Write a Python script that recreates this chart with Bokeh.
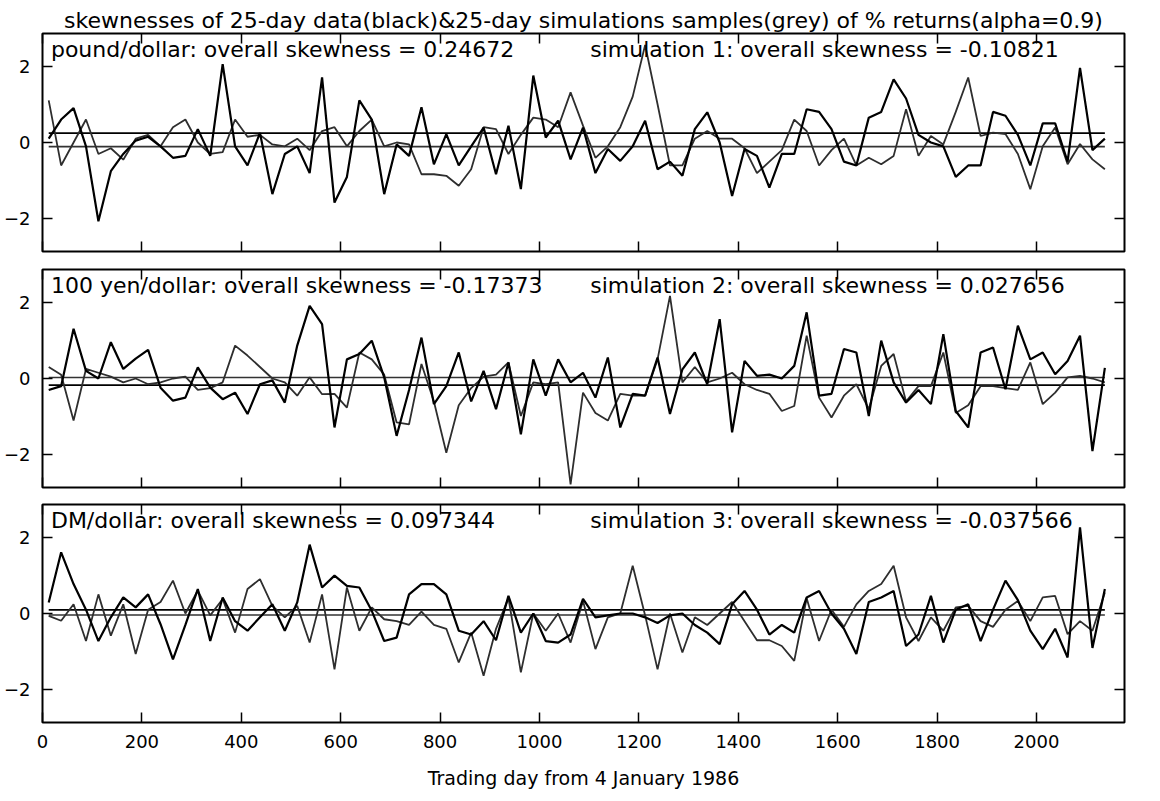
from bokeh.plotting import figure
from bokeh.layouts import column
from bokeh.models import Range1d, LinearAxis, FixedTicker, Label
from bokeh.embed import file_html
from bokeh.resources import INLINE

# ---- data -------------------------------------------------------------
n_windows = 86
days = [12.5 + 25 * i for i in range(n_windows)]   # centre of each 25-day window

pound_data = [0.1, 0.6, 0.9, -0.1, -2.06, -0.75, -0.3, 0.05, 0.15, -0.1,
              -0.4, -0.35, 0.35, -0.35, 2.05, -0.1, -0.6, 0.25, -1.35, -0.3,
              -0.1, -0.8, 1.7, -1.57, -0.9, 1.1, 0.6, -1.35, -0.05, -0.35,
              0.92, -0.57, 0.22, -0.6, -0.1, 0.39, -0.83, 0.44, -1.22, 1.75,
              0.13, 0.57, -0.44, 0.39, -0.8, -0.17, -0.48, -0.1, 0.57, -0.7,
              -0.5, -0.87, 0.35, 0.79, 0.0, -1.4, -0.17, -0.35, -1.18, -0.3,
              -0.3, 0.87, 0.8, 0.35, -0.5, -0.6, 0.65, 0.8, 1.65, 1.15,
              0.2, 0.0, -0.1, -0.9, -0.6, -0.6, 0.8, 0.7, 0.2, -0.6,
              0.5, 0.5, -0.5, 1.95, -0.2, 0.1]
pound_sim = [1.1, -0.6, 0.0, 0.6, -0.3, -0.15, -0.45, 0.1, 0.2, -0.1,
             0.4, 0.6, 0.0, -0.3, -0.25, 0.6, 0.15, 0.2, -0.05, -0.1,
             0.1, -0.2, 0.3, 0.4, -0.1, 0.3, 0.6, -0.1, 0.0, -0.05,
             -0.83, -0.83, -0.87, -1.13, -0.7, 0.4, 0.35, -0.3, 0.2, 0.65,
             0.6, 0.4, 1.31, 0.44, -0.4, -0.1, 0.4, 1.2, 2.55, 1.0,
             -0.6, -0.6, 0.1, 0.3, 0.1, 0.1, -0.15, -0.8, -0.5, -0.2,
             0.6, 0.3, -0.6, -0.2, 0.1, -0.6, -0.4, -0.57, -0.35, 0.87,
             -0.35, 0.17, -0.05, 0.8, 1.7, 0.17, 0.26, 0.22, -0.3, -1.22,
             -0.1, 0.39, -0.57, -0.04, -0.44, -0.7]

yen_data = [-0.3, -0.2, 1.3, 0.2, 0.0, 0.95, 0.25, 0.52, 0.75, -0.24,
            -0.58, -0.5, 0.29, -0.24, -0.54, -0.37, -0.93, -0.15, -0.05, -0.63,
            0.86, 1.9, 1.42, -1.28, 0.5, 0.64, 0.99, 0.03, -1.5, -0.3,
            1.07, -0.67, -0.2, 0.68, -0.6, 0.2, -0.8, 0.42, -1.46, 0.5,
            -0.45, 0.5, -0.1, 0.15, -0.5, 0.55, -1.28, -0.4, -0.45, 0.55,
            -0.93, 0.24, 0.68, -0.15, 1.55, -1.41, 0.46, 0.07, 0.1, 0.0,
            0.33, 1.73, -0.45, -0.4, 0.77, 0.68, -0.98, 0.99, -0.1, -0.63,
            -0.3, -0.67, 1.16, -0.85, -1.28, 0.68, 0.81, -0.28, 1.38, 0.5,
            0.68, 0.11, 0.46, 1.12, -1.9, 0.28]
yen_sim = [0.3, 0.1, -1.1, 0.25, 0.15, 0.05, -0.1, 0.0, -0.15, -0.1,
           0.0, 0.05, -0.3, -0.25, -0.1, 0.86, 0.6, 0.3, 0.0, -0.1,
           -0.45, 0.03, -0.41, -0.4, -0.76, 0.68, 0.5, 0.1, -1.15, -1.2,
           0.38, -0.6, -1.94, -0.7, -0.25, 0.05, 0.1, 0.42, -0.98, -0.1,
           -0.15, -0.1, -2.77, -0.37, -0.9, -1.1, -0.4, -0.45, -0.45, 0.5,
           2.16, -0.1, 0.3, -0.1, 0.0, 0.15, -0.15, -0.3, -0.4, -0.85,
           -0.72, 1.12, -0.5, -1.02, -0.45, -0.15, -0.8, 0.33, 0.64, -0.6,
           -0.2, -0.2, 0.68, -0.9, -0.7, -0.2, -0.2, -0.25, -0.3, 0.42,
           -0.67, -0.37, 0.03, 0.07, 0.0, -0.1]

dm_data = [0.29, 1.6, 0.77, 0.1, -0.72, -0.1, 0.42, 0.16, 0.5, -0.28,
           -1.2, -0.3, 0.64, -0.72, 0.42, -0.2, -0.45, -0.1, 0.24, -0.45,
           0.29, 1.8, 0.68, 0.99, 0.72, 0.68, 0.07, -0.72, -0.63, 0.5,
           0.77, 0.77, 0.5, -0.45, -0.55, -0.2, -0.7, 0.46, -0.5, 0.0,
           -0.72, -0.76, -0.55, 0.38, -0.1, -0.05, 0.0, 0.0, -0.1, -0.25,
           -0.05, 0.0, -0.3, -0.5, -0.8, 0.24, 0.59, 0.1, -0.55, -0.3,
           -0.5, 0.42, 0.59, 0.0, -0.4, -1.06, 0.3, 0.42, 0.59, -0.85,
           -0.55, 0.46, -0.76, 0.1, 0.24, -0.72, 0.1, 0.86, 0.35, -0.45,
           -0.93, -0.4, -1.15, 2.25, -0.9, 0.64]
dm_sim = [-0.06, -0.19, 0.24, -0.72, 0.5, -0.58, 0.24, -1.06, 0.1, 0.3,
          0.86, 0.0, 0.6, -0.05, 0.38, -0.5, 0.64, 0.9, 0.2, -0.1,
          0.2, -0.76, 0.5, -1.46, 0.68, -0.45, 0.16, -0.15, -0.2, -0.3,
          0.05, -0.3, -0.4, -1.28, -0.5, -1.63, -0.4, 0.4, -1.54, 0.0,
          -0.45, 0.0, -0.76, 0.33, -0.93, -0.1, 0.0, 1.25, -0.05, -1.46,
          0.0, -1.02, -0.1, -0.3, 0.0, 0.3, -0.2, -0.7, -0.7, -0.85,
          -1.24, 0.4, -0.72, 0.1, -0.35, 0.24, 0.59, 0.77, 1.25, -0.1,
          -0.72, -0.1, -0.45, 0.16, 0.2, -0.2, -0.35, 0.1, 0.33, -0.2,
          0.42, 0.46, -0.54, -0.2, -0.45, 0.55]

currency_names = ["pound/dollar", "100 yen/dollar", "DM/dollar"]
overall_data = [0.24672, -0.17373, 0.097344]
overall_sim = [-0.10821, 0.027656, -0.037566]
overall_data_txt = ["0.24672", "-0.17373", "0.097344"]
overall_sim_txt = ["-0.10821", "0.027656", "-0.037566"]

x_ticks = [0, 200, 400, 600, 800, 1000, 1200, 1400, 1600, 1800, 2000]
y_ticks = [-2, 0, 2]

title_text = ("skewnesses of 25-day data(black)&25-day simulations samples(grey) "
              "of % returns(alpha=0.9)")
x_label = "Trading day from 4 January 1986"

FONT = "DejaVu Sans"
X_MAX = 2177
Y_LIM = 2.85


def add_axis(p, side, ticks, labels):
    ax = LinearAxis(ticker=FixedTicker(ticks=ticks))
    ax.major_tick_in = 10
    ax.major_tick_out = 0
    ax.minor_tick_line_color = None
    ax.major_tick_line_color = "black"
    ax.major_tick_line_width = 1.5
    ax.axis_line_color = None
    ax.major_label_text_font = FONT
    if labels:
        ax.major_label_text_color = "black"
        ax.major_label_text_font_size = "18px"
        ax.major_label_standoff = 12
    else:
        # tick marks only: labels are not drawn at all
        ax.major_label_text_color = None
        ax.major_label_text_font_size = "1px"
        ax.major_label_standoff = 0
    p.add_layout(ax, side)
    return ax


def make_panel(i, data, sim, top_border, bottom_border, with_title=False, with_xlabels=False):
    p = figure(frame_width=1082, frame_height=218,
               x_range=Range1d(0, X_MAX), y_range=Range1d(-Y_LIM, Y_LIM),
               x_axis_type=None, y_axis_type=None,
               output_backend="svg", toolbar_location=None,
               min_border_left=35, min_border_right=20,
               min_border_top=top_border, min_border_bottom=bottom_border)
    p.xgrid.visible = False
    p.ygrid.visible = False
    p.outline_line_color = "black"
    p.outline_line_width = 2
    p.background_fill_color = "white"
    p.border_fill_color = "white"

    add_axis(p, "left", y_ticks, True)
    add_axis(p, "right", y_ticks, False)
    add_axis(p, "above", x_ticks, False)
    bx = add_axis(p, "below", x_ticks, with_xlabels)
    if with_xlabels:
        bx.axis_label = x_label
        bx.axis_label_text_font = FONT
        bx.axis_label_text_font_size = "19px"
        bx.axis_label_text_font_style = "normal"
        bx.axis_label_text_color = "black"
        bx.axis_label_standoff = 16

    if with_title:
        p.title.text = title_text
        p.title.text_font = FONT
        p.title.text_font_size = "22px"
        p.title.text_font_style = "normal"
        p.title.text_color = "black"
        p.title.align = "center"
        p.title.standoff = 2

    # overall skewness levels
    p.line([days[0], days[-1]], [overall_sim[i], overall_sim[i]], line_color="#333333", line_width=1.6)
    p.line([days[0], days[-1]], [overall_data[i], overall_data[i]], line_color="black", line_width=1.8)
    # series
    p.line(days, sim, line_color="#2e2e2e", line_width=1.8)
    p.line(days, data, line_color="black", line_width=2.2)

    p.add_layout(Label(x=17, y=2.42,
                       text=f"{currency_names[i]}: overall skewness = {overall_data_txt[i]}",
                       text_font=FONT, text_font_size="22px", text_baseline="middle",
                       text_color="black"))
    p.add_layout(Label(x=1102, y=2.42,
                       text=f"simulation {i + 1}: overall skewness = {overall_sim_txt[i]}",
                       text_font=FONT, text_font_size="22px", text_baseline="middle",
                       text_color="black"))
    return p


p1 = make_panel(0, pound_data, pound_sim, 33, 9, with_title=True)
p2 = make_panel(1, yen_data, yen_sim, 9, 8)
p3 = make_panel(2, dm_data, dm_sim, 9, 68, with_xlabels=True)

layout = column(p1, p2, p3, spacing=0)
open("out.html", "w").write(file_html(layout, INLINE))
